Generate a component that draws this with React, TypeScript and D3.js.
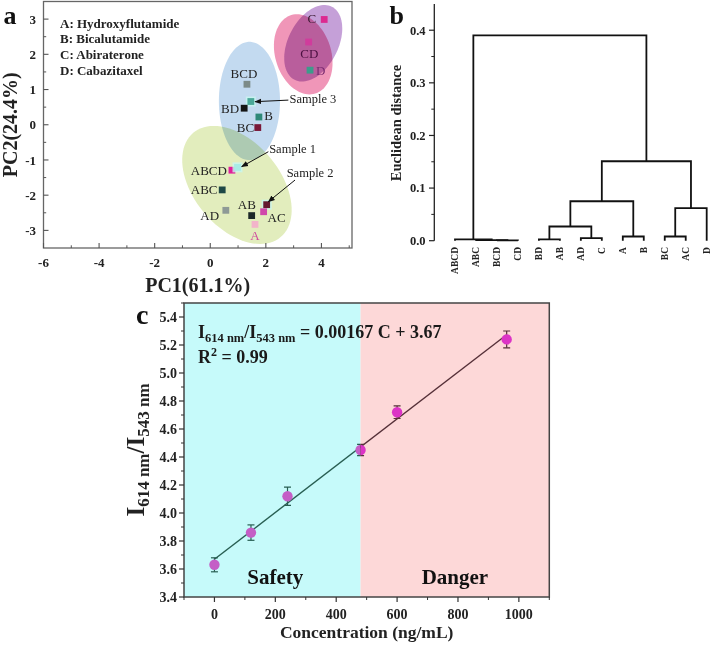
import React from 'react';
import * as d3 from 'd3';

const W = 711;
const H = 645;
const SERIF = '"Liberation Serif", "Times New Roman", Times, serif';

// ---------- Panel a: PCA ----------
const pcaNames = ['C', 'CD', 'D', 'BCD', 'Sample 3', 'BD', 'B', 'BC', 'ABCD', 'Sample 1', 'ABC', 'AD', 'AB', 'Sample 2', 'AC', 'A'];
const pc1Values = [4.1, 3.54, 3.59, 1.32, 1.46, 1.22, 1.75, 1.71, 0.78, 0.98, 0.43, 0.56, 1.49, 2.03, 1.92, 1.61];
const pc2Values = [2.99, 2.35, 1.55, 1.15, 0.66, 0.47, 0.22, -0.08, -1.29, -1.21, -1.85, -2.43, -2.58, -2.27, -2.47, -2.83];
const pcaColors = ['#dc2a90', '#d03c9c', '#3d9b8b', '#7d8b88', '#4aa898', '#141414', '#2e8878', '#7a1838', '#e0209a', '#a8ece6', '#1e4846', '#8e9a96', '#1c2828', '#641a30', '#d048aa', '#f2b4ca'];
const pcaXTicks = [-6, -4, -2, 0, 2, 4];
const pcaXMinor = [-5, -3, -1, 1, 3, 5];
const pcaYTicks = [-3, -2, -1, 0, 1, 2, 3];
const pcaYMinor = [-2.5, -1.5, -0.5, 0.5, 1.5, 2.5];
const legendLines = ['A: Hydroxyflutamide', 'B: Bicalutamide', 'C: Abiraterone', 'D: Cabazitaxel'];

// confidence ellipses: centre and two conjugate semi-axis vectors (data units)
const ellipseCenters = [[0.96, -1.71], [1.41, 0.675], [3.345, 2.0], [3.705, 2.314]];
const ellipseAxisU = [[1.573, -1.48], [1.1, 0], [0.431, -1.114], [-0.67, -1.038]];
const ellipseAxisV = [[-1.185, -0.785], [0, 1.68], [-0.963, -0.232], [-0.801, 0.322]];
const ellipseFills = ['#e2edbd', '#c3daf0', '#f096b8', '#c5a0d8'];

// label placement for points (pixel offsets)
const labelDx = [-8, 0.7, 6, -3, 0, -5, 5.3, -3.7, -5, 0, -4.7, -6.7, -4.8, 0, 4, 0];
const labelDy = [4, 16, 4.4, -6, 0, 4.4, 3.4, 4, 4.7, 0, 4.3, 9.7, -6.4, 0, 10.7, 15.3];
const labelAnchor = ['end', 'middle', 'start', 'middle', 'none', 'end', 'start', 'end', 'end', 'none', 'end', 'end', 'middle', 'none', 'start', 'middle'];
const labelColors = ['#3a1a32', '#4a1040', '#7a2a70', '#222', '', '#222', '#222', '#222', '#222', '', '#222', '#222', '#222', '', '#222', '#d04c9e'];

// sample annotations: text position, arrow start, arrow tip (data units)
const sampleNames = ['Sample 3', 'Sample 1', 'Sample 2'];
const sampleTextX = [2.85, 2.12, 2.75];
const sampleTextY = [0.61, -0.794, -1.476];
const sampleArrowX0 = [2.81, 2.09, 3.05];
const sampleArrowY0 = [0.7, -0.766, -1.57];
const sampleArrowX1 = [1.61, 1.13, 2.09];
const sampleArrowY1 = [0.655, -1.19, -2.186];

// ---------- Panel b: dendrogram ----------
const leaves = ['ABCD', 'ABC', 'BCD', 'CD', 'BD', 'AB', 'AD', 'C', 'A', 'B', 'BC', 'AC', 'D'];
// [childA, childB, height]; node ids 0..12 leaves, 13.. merges
const merges: [number, number, number][] = [
  [2, 3, 0.0005],
  [1, 13, 0.0012],
  [0, 14, 0.0025],
  [4, 5, 0.0025],
  [6, 7, 0.005],
  [16, 17, 0.027],
  [8, 9, 0.008],
  [18, 19, 0.075],
  [10, 11, 0.008],
  [21, 12, 0.062],
  [20, 22, 0.151],
  [15, 23, 0.39],
];
const dendroTicks = [0, 0.1, 0.2, 0.3, 0.4];
const dendroMinor = [0.05, 0.15, 0.25, 0.35];

// ---------- Panel c: calibration ----------
const concentration = [0, 120, 240, 480, 600, 960];
const ratio = [3.63, 3.86, 4.12, 4.45, 4.72, 5.24];
const ratioErr = [0.05, 0.055, 0.065, 0.04, 0.045, 0.06];
const fitSlope = 0.00167;
const fitIntercept = 3.67;
const safetyLimit = 480;
const concTicks = [0, 200, 400, 600, 800, 1000];
const concMinor = [-100, 100, 300, 500, 700, 900, 1100];
const ratioTicks = [3.4, 3.6, 3.8, 4.0, 4.2, 4.4, 4.6, 4.8, 5.0, 5.2, 5.4];
const ratioMinor = [3.5, 3.7, 3.9, 4.1, 4.3, 4.5, 4.7, 4.9, 5.1, 5.3, 5.5];
const regionNames = ['Safety', 'Danger'];
const regionStart = [-100, safetyLimit];
const regionEnd = [safetyLimit, 1100];
const regionLabelAt = [200, 790];
const regionBg = ['#c6fafa', '#fdd8d8'];
const regionLine = ['#285e52', '#553038'];
const regionMarker = ['#c45ec6', '#dc34c6'];

export default function App() {
  // Panel a scales
  const ax = d3.scaleLinear().domain([-6, 5.1]).range([43.5, 352]);
  const ay = d3.scaleLinear().domain([-3.5, 3.5]).range([248, 1.5]);
  const ellipseLine = d3.line<[number, number]>().curve(d3.curveLinearClosed);
  const ellipsePaths = ellipseCenters.map((c, i) => {
    const u = ellipseAxisU[i];
    const v = ellipseAxisV[i];
    const pts: [number, number][] = d3.range(0, 90).map((k) => {
      const t = (k / 90) * Math.PI * 2;
      const px = c[0] + u[0] * Math.cos(t) + v[0] * Math.sin(t);
      const py = c[1] + u[1] * Math.cos(t) + v[1] * Math.sin(t);
      return [ax(px), ay(py)];
    });
    return ellipseLine(pts) as string;
  });

  // Panel b scales
  const bx = d3.scalePoint<string>().domain(leaves).range([455, 706.7]);
  const by = d3.scaleLinear().domain([0, 0.45]).range([240.7, 3.9]);
  const nodeX: number[] = leaves.map((l) => bx(l) as number);
  const nodeH: number[] = leaves.map(() => 0);
  const linkPaths = merges.map(([a, b, h]) => {
    const xa = nodeX[a];
    const xb = nodeX[b];
    const p = `M${xa},${by(nodeH[a])}V${by(h)}H${xb}V${by(nodeH[b])}`;
    nodeX.push((xa + xb) / 2);
    nodeH.push(h);
    return p;
  });

  // Panel c scales
  const cx = d3.scaleLinear().domain([-100, 1100]).range([184, 549.3]);
  const cy = d3.scaleLinear().domain([3.4, 5.5]).range([597, 303]);
  const fitX0 = concentration[0];
  const fitX1 = concentration[concentration.length - 1];

  const fw = 'bold';

  return (
    <svg
      width={W}
      height={H}
      viewBox={`0 0 ${W} ${H}`}
      style={{ position: 'absolute', left: 0, top: 0, background: '#fff' }}
      fontFamily={SERIF}
    >
      <defs>
        <marker id="arr" viewBox="0 0 10 10" refX="9" refY="5" markerWidth="7" markerHeight="7" orient="auto" markerUnits="userSpaceOnUse">
          <path d="M0,1 L10,5 L0,9 z" fill="#111" />
        </marker>
        {regionNames.map((n, i) => (
          <clipPath id={`clip${i}`} key={n}>
            <rect x={cx(regionStart[i])} y={cy(5.5)} width={cx(regionEnd[i]) - cx(regionStart[i])} height={cy(3.4) - cy(5.5)} />
          </clipPath>
        ))}
      </defs>

      {/* ================= Panel a ================= */}
      <g>
        {ellipsePaths.map((d, i) => (
          <path key={i} d={d} fill={ellipseFills[i]} style={{ mixBlendMode: 'multiply' }} />
        ))}
        <rect x={43.5} y={1.5} width={352 - 43.5} height={248 - 1.5} fill="none" stroke="#666" strokeWidth={1.3} />
        {pcaXTicks.map((t) => (
          <g key={`ax${t}`}>
            <line x1={ax(t)} x2={ax(t)} y1={248} y2={243} stroke="#555" strokeWidth={1.1} />
            <text x={ax(t)} y={266.5} fontSize={13} fontWeight={fw} textAnchor="middle" fill="#222">{t}</text>
          </g>
        ))}
        {pcaXMinor.map((t) => (
          <line key={`axm${t}`} x1={ax(t)} x2={ax(t)} y1={248} y2={245.3} stroke="#555" strokeWidth={1} />
        ))}
        {pcaYTicks.map((t) => (
          <g key={`ay${t}`}>
            <line x1={43.5} x2={48.5} y1={ay(t)} y2={ay(t)} stroke="#555" strokeWidth={1.1} />
            <text x={36} y={ay(t)} dy="0.35em" fontSize={13} fontWeight={fw} textAnchor="end" fill="#222">{t}</text>
          </g>
        ))}
        {pcaYMinor.map((t) => (
          <line key={`aym${t}`} x1={43.5} x2={46.2} y1={ay(t)} y2={ay(t)} stroke="#555" strokeWidth={1} />
        ))}
        <text x={197.7} y={291.5} fontSize={20} fontWeight={fw} textAnchor="middle" fill="#222">PC1(61.1%)</text>
        <text transform={`translate(16.5,${ay(0)}) rotate(-90)`} fontSize={20} fontWeight={fw} textAnchor="middle" fill="#222">PC2(24.4%)</text>
        <text x={3.5} y={24} fontSize={26} fontWeight={fw} fill="#111">a</text>
        {legendLines.map((l, i) => (
          <text key={l} x={60} y={27.5 + i * 15.7} fontSize={13} fontWeight={fw} fill="#222">{l}</text>
        ))}
        {pcaNames.map((n, i) => {
          const px = ax(pc1Values[i]);
          const py = ay(pc2Values[i]);
          const isSample = n.startsWith('Sample');
          return (
            <g key={n}>
              {isSample && <rect x={px - 5} y={py - 5} width={10} height={10} fill="#c8f6f0" opacity={0.8} />}
              <rect x={px - 3.4} y={py - 3.4} width={6.8} height={6.8} fill={pcaColors[i]} />
              {!isSample && (
                <text x={px + labelDx[i]} y={py + labelDy[i]} fontSize={13} textAnchor={labelAnchor[i]} fill={labelColors[i]}>{n}</text>
              )}
            </g>
          );
        })}
        {sampleNames.map((n, i) => (
          <g key={n}>
            <line
              x1={ax(sampleArrowX0[i])}
              y1={ay(sampleArrowY0[i])}
              x2={ax(sampleArrowX1[i])}
              y2={ay(sampleArrowY1[i])}
              stroke="#111"
              strokeWidth={1}
              markerEnd="url(#arr)"
            />
            <text x={ax(sampleTextX[i])} y={ay(sampleTextY[i])} fontSize={12.5} fill="#222">{n}</text>
          </g>
        ))}
      </g>

      {/* ================= Panel b ================= */}
      <g>
        <text x={389.5} y={23.5} fontSize={26} fontWeight={fw} fill="#111">b</text>
        <line x1={434.3} x2={434.3} y1={by(0.45)} y2={by(0)} stroke="#222" strokeWidth={1.3} />
        {dendroTicks.map((t) => (
          <g key={`bt${t}`}>
            <line x1={429} x2={434.3} y1={by(t)} y2={by(t)} stroke="#222" strokeWidth={1.2} />
            <text x={425.5} y={by(t)} dy="0.35em" fontSize={12.5} fontWeight={fw} textAnchor="end" fill="#222">{t.toFixed(1)}</text>
          </g>
        ))}
        {dendroMinor.map((t) => (
          <line key={`btm${t}`} x1={431.3} x2={434.3} y1={by(t)} y2={by(t)} stroke="#222" strokeWidth={1} />
        ))}
        <text transform={`translate(401,123) rotate(-90)`} fontSize={14.5} fontWeight={fw} textAnchor="middle" fill="#222">Euclidean distance</text>
        {linkPaths.map((d, i) => (
          <path key={i} d={d} fill="none" stroke="#111" strokeWidth={1.8} />
        ))}
        {leaves.map((l) => (
          <text
            key={l}
            transform={`translate(${(bx(l) as number) + 3.4},247) rotate(-90)`}
            fontSize={9.5}
            fontWeight={fw}
            textAnchor="end"
            fill="#222"
          >
            {l}
          </text>
        ))}
      </g>

      {/* ================= Panel c ================= */}
      <g>
        {regionNames.map((n, i) => (
          <rect
            key={n}
            x={cx(regionStart[i])}
            y={cy(5.5)}
            width={cx(regionEnd[i]) - cx(regionStart[i])}
            height={cy(3.4) - cy(5.5)}
            fill={regionBg[i]}
          />
        ))}
        {regionNames.map((n, i) => (
          <g key={`m${n}`} clipPath={`url(#clip${i})`}>
            <line
              x1={cx(fitX0)}
              y1={cy(fitIntercept + fitSlope * fitX0)}
              x2={cx(fitX1)}
              y2={cy(fitIntercept + fitSlope * fitX1)}
              stroke={regionLine[i]}
              strokeWidth={1.4}
            />
            {concentration.map((c, k) => {
              const x = cx(c);
              const yt = cy(ratio[k] + ratioErr[k]);
              const yb = cy(ratio[k] - ratioErr[k]);
              return (
                <g key={c}>
                  <line x1={x} x2={x} y1={yt} y2={yb} stroke={regionLine[i]} strokeWidth={1.2} />
                  <line x1={x - 3.5} x2={x + 3.5} y1={yt} y2={yt} stroke={regionLine[i]} strokeWidth={1.2} />
                  <line x1={x - 3.5} x2={x + 3.5} y1={yb} y2={yb} stroke={regionLine[i]} strokeWidth={1.2} />
                  <circle cx={x} cy={cy(ratio[k])} r={5.2} fill={regionMarker[i]} />
                </g>
              );
            })}
          </g>
        ))}
        <rect x={184} y={cy(5.5)} width={549.3 - 184} height={cy(3.4) - cy(5.5)} fill="none" stroke="#444" strokeWidth={1.5} />
        {concTicks.map((t) => (
          <g key={`ct${t}`}>
            <line x1={cx(t)} x2={cx(t)} y1={597} y2={602} stroke="#333" strokeWidth={1.2} />
            <text x={cx(t)} y={618.5} fontSize={14} fontWeight={fw} textAnchor="middle" fill="#222">{t}</text>
          </g>
        ))}
        {concMinor.map((t) => (
          <line key={`ctm${t}`} x1={cx(t)} x2={cx(t)} y1={597} y2={600} stroke="#333" strokeWidth={1} />
        ))}
        {ratioTicks.map((t) => (
          <g key={`rt${t}`}>
            <line x1={179} x2={184} y1={cy(t)} y2={cy(t)} stroke="#333" strokeWidth={1.2} />
            <text x={177} y={cy(t)} dy="0.35em" fontSize={14} fontWeight={fw} textAnchor="end" fill="#222">{t.toFixed(1)}</text>
          </g>
        ))}
        {ratioMinor.map((t) => (
          <line key={`rtm${t}`} x1={181} x2={184} y1={cy(t)} y2={cy(t)} stroke="#333" strokeWidth={1} />
        ))}
        {regionNames.map((n, i) => (
          <text key={`lab${n}`} x={cx(regionLabelAt[i])} y={583.5} fontSize={21} fontWeight={fw} textAnchor="middle" fill="#111">{n}</text>
        ))}
        <text x={198} y={338} fontWeight={fw} fill="#1a1a1a">
          <tspan fontSize={18}>I</tspan>
          <tspan fontSize={12.5} dy={4}>614 nm</tspan>
          <tspan fontSize={18} dy={-4}>/I</tspan>
          <tspan fontSize={12.5} dy={4}>543 nm</tspan>
          <tspan fontSize={18} dy={-4}>{` = ${fitSlope} C + ${fitIntercept}`}</tspan>
        </text>
        <text x={198} y={363.3} fontWeight={fw} fill="#1a1a1a">
          <tspan fontSize={18}>R</tspan>
          <tspan fontSize={12} dy={-7}>2</tspan>
          <tspan fontSize={18} dy={7}> = 0.99</tspan>
        </text>
        <text x={366.7} y={638} fontSize={17.5} fontWeight={fw} textAnchor="middle" fill="#222">Concentration (ng/mL)</text>
        <text transform={`translate(144,450) rotate(-90)`} fontWeight={fw} textAnchor="middle" fill="#222">
          <tspan fontSize={25}>I</tspan>
          <tspan fontSize={17} dy={5}>614 nm</tspan>
          <tspan fontSize={25} dy={-5}>/I</tspan>
          <tspan fontSize={17} dy={5}>543 nm</tspan>
        </text>
        <text x={136} y={323.5} fontSize={28} fontWeight={fw} fill="#111">c</text>
      </g>
    </svg>
  );
}
